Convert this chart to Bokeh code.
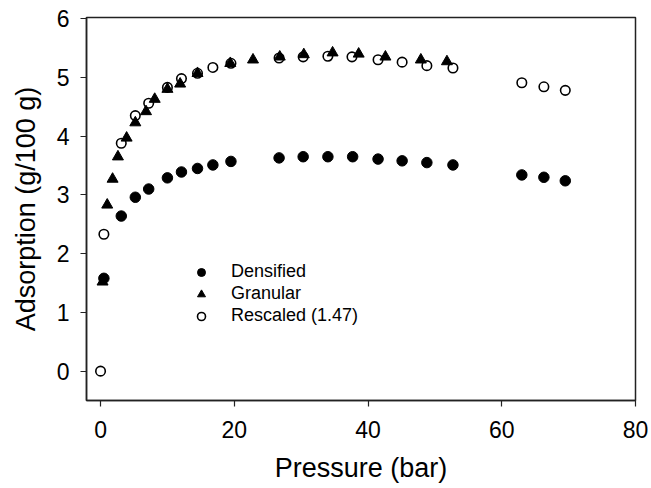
from bokeh.plotting import figure
from bokeh.models import Range1d, FixedTicker, Legend, LegendItem
from bokeh.embed import file_html
from bokeh.resources import INLINE

# Densified (filled circles)
dens_p = [0.5, 3.1, 5.2, 7.2, 10.0, 12.1, 14.5, 16.8, 19.5, 26.7, 30.3, 34.0, 37.7, 41.5, 45.1, 48.8, 52.7, 63.0, 66.3, 69.5]
dens_a = [1.58, 2.64, 2.96, 3.10, 3.29, 3.39, 3.45, 3.51, 3.57, 3.63, 3.65, 3.65, 3.65, 3.61, 3.58, 3.55, 3.51, 3.34, 3.30, 3.24]

# Granular (filled triangles)
gran_p = [0.3, 1.0, 1.8, 2.6, 3.9, 5.2, 6.8, 8.1, 10.0, 11.9, 14.5, 19.4, 22.8, 26.8, 30.4, 34.7, 38.6, 42.6, 47.9, 51.8]
gran_a = [1.52, 2.83, 3.27, 3.65, 3.97, 4.23, 4.42, 4.63, 4.80, 4.89, 5.07, 5.24, 5.30, 5.35, 5.39, 5.42, 5.40, 5.35, 5.30, 5.27]

# Rescaled (1.47) (open circles)
resc_p = [0.0, 0.5, 3.1, 5.2, 7.2, 10.0, 12.1, 14.5, 16.8, 19.5, 26.7, 30.3, 34.0, 37.6, 41.5, 45.1, 48.8, 52.7, 63.0, 66.3, 69.5]
resc_a = [0.0, 2.33, 3.88, 4.35, 4.56, 4.83, 4.98, 5.07, 5.17, 5.24, 5.33, 5.35, 5.36, 5.35, 5.30, 5.26, 5.20, 5.16, 4.91, 4.84, 4.78]

x_ticks = [0, 20, 40, 60, 80]
y_ticks = [0, 1, 2, 3, 4, 5, 6]
labels = ["Densified", "Granular", "Rescaled (1.47)"]

FONT = "Liberation Sans"

p = figure(width=648, height=488, output_backend="svg", toolbar_location=None,
           x_range=Range1d(-2.1, 80), y_range=Range1d(-0.5, 6.02),
           min_border_left=86, min_border_right=13, min_border_top=17, min_border_bottom=88)

p.xgrid.visible = False
p.ygrid.visible = False
p.outline_line_color = "#222222"
p.outline_line_width = 1.5
p.background_fill_color = "white"
p.border_fill_color = "white"

r1 = p.scatter(dens_p, dens_a, marker="circle", size=10.5, fill_color="black", line_color="black")
r2 = p.scatter(gran_p, gran_a, marker="triangle", size=11, fill_color="black", line_color="black")
r3 = p.scatter(resc_p, resc_a, marker="circle", size=9.5, fill_color=None, line_color="black", line_width=1.6)

for ax, ticks in ((p.xaxis[0], x_ticks), (p.yaxis[0], y_ticks)):
    ax.ticker = FixedTicker(ticks=ticks)
    ax.minor_tick_line_color = None
    ax.major_tick_out = 6
    ax.major_tick_in = 0
    ax.axis_line_color = "#222222"
    ax.axis_line_width = 1.5
    ax.major_tick_line_color = "#222222"
    ax.major_tick_line_width = 1.2
    ax.major_label_text_font = FONT
    ax.major_label_text_font_size = "23px"
    ax.major_label_text_color = "black"
    ax.axis_label_text_font = FONT
    ax.axis_label_text_font_size = "27px"
    ax.axis_label_text_font_style = "normal"
    ax.axis_label_text_color = "black"

p.xaxis.axis_label = "Pressure (bar)"
p.yaxis.axis_label = "Adsorption (g/100 g)"
p.xaxis.major_label_standoff = 14
p.yaxis.major_label_standoff = 11
p.xaxis.axis_label_standoff = 12
p.yaxis.axis_label_standoff = 13

legend = Legend(items=[LegendItem(label=labels[0], renderers=[r1]),
                       LegendItem(label=labels[1], renderers=[r2]),
                       LegendItem(label=labels[2], renderers=[r3])],
                location=(105, 74), border_line_color=None, background_fill_alpha=0,
                label_text_font=FONT, label_text_font_size="18px", label_text_color="black",
                label_standoff=20, glyph_width=20, glyph_height=20, label_height=20,
                spacing=1, padding=10)
p.add_layout(legend)

open("out.html", "w").write(file_html(p, INLINE))
